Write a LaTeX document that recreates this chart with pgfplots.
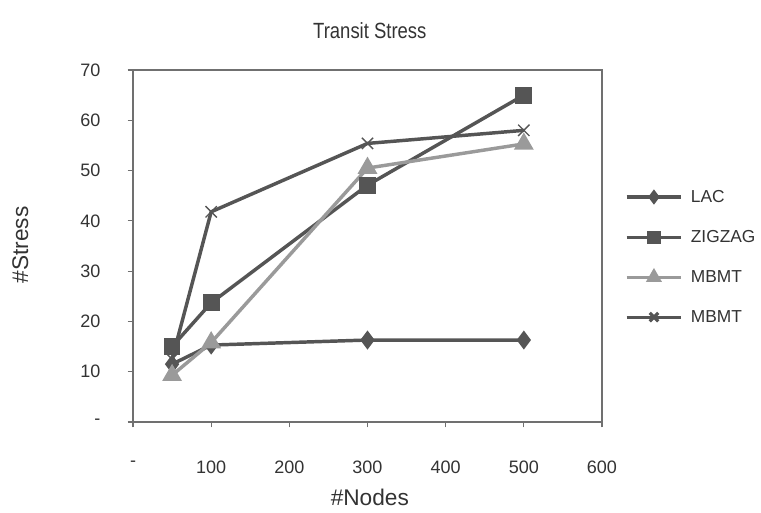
\documentclass[border=0pt]{standalone}
\usepackage{fontspec}
\setmainfont{Liberation Sans}
\newfontfamily\narrowfont[FakeStretch=0.84]{Liberation Sans}
\usepackage{pgfplots}
\pgfplotsset{compat=1.18}

\definecolor{darkser}{HTML}{555555}
\definecolor{lightser}{HTML}{9A9A9A}
\definecolor{frame}{HTML}{707070}

\begin{document}
\begin{tikzpicture}[x=0.75pt,y=0.75pt]
\begin{axis}[
  name=ax,
  scale only axis,
  width=351.75pt, height=264pt,
  xmin=0, xmax=600, ymin=0, ymax=70,
  xtick={0,100,...,600},
  xticklabels={-,100,200,300,400,500,600},
  ytick={0,10,...,70},
  yticklabels={-,10,20,30,40,50,60,70},
  xtick pos=lower, ytick pos=left,
  tick align=outside,
  major tick length=4pt,
  tick style={frame, line width=0.8pt},
  axis line style={frame, line width=0.8pt},
  /pgf/number format/assume math mode=true,
  tick label style={font=\fontsize{13.5}{15}\selectfont, color=black!80},
  xticklabel style={yshift=-22pt},
  yticklabel style={xshift=-17pt},
  title={\narrowfont Transit Stress},
  title style={at={(axis description cs:0.505,1.09)}, anchor=center, font=\fontsize{16.5}{18}\selectfont, color=black!80},
  xlabel={\#Nodes},
  xlabel style={at={(axis description cs:0.505,-0.213)}, anchor=center, font=\fontsize{17}{19}\selectfont, color=black!80},
  ylabel={\#Stress},
  ylabel style={at={(axis description cs:-0.24,0.503)}, anchor=center, font=\fontsize{17}{19}\selectfont, color=black!80},
  legend style={draw=none, fill=none, at={(axis description cs:1.04,0.675)}, anchor=north west,
    font=\fontsize{13}{14}\selectfont, text=black!80, row sep=15.5pt,
    /tikz/every odd column/.append style={column sep=4pt}},
  legend cell align=left,
  legend image code/.code={\draw[line width=2.4pt, mark repeat=2, mark phase=2, mark options={scale=0.75}] plot coordinates {(0pt,0pt) (20.5pt,0pt) (41pt,0pt)};},
  every axis plot/.append style={line width=2.6pt, mark options={solid}},
]
% LAC
\addplot[darkser, mark=diamond*, mark size=5pt] coordinates {(50,11.5) (100,15.3) (300,16.3) (500,16.3)};
\addlegendentry{LAC}
% ZIGZAG
\addplot[darkser, mark=square*, mark size=5pt] coordinates {(50,15.0) (100,23.7) (300,47.1) (500,65.0)};
\addlegendentry{ZIGZAG}
% MBMT (triangles)
\addplot[lightser, mark=triangle*, mark size=6pt] coordinates {(50,9.3) (100,15.8) (300,50.5) (500,55.3)};
\addlegendentry{MBMT}
% MBMT (crosses)
\addplot[darkser, mark=x, mark size=6pt, mark options={line width=1pt}] coordinates {(50,12.5) (100,41.8) (300,55.4) (500,58.0)};
\addlegendentry{MBMT}
\end{axis}
\pgfresetboundingbox
\path[use as bounding box] ([shift={(-99.75pt,-67.5pt)}]ax.south west) rectangle ([shift={(471pt,316.5pt)}]ax.south west);
\end{tikzpicture}
\end{document}
